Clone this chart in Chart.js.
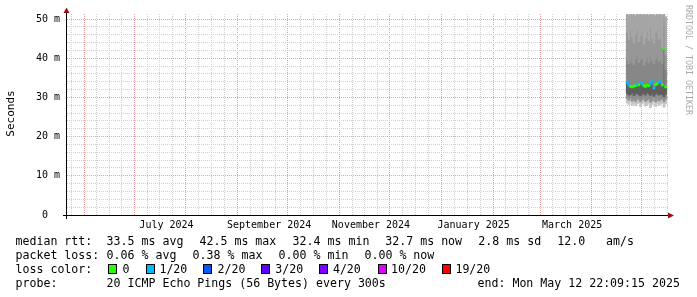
<!DOCTYPE html>
<html>
<head>
<meta charset="utf-8">
<title>Ping latency - last 360 days</title>
<script src="https://cdn.jsdelivr.net/npm/chart.js@4.4.1/dist/chart.umd.min.js"></script>
<style>
  html, body { margin: 0; padding: 0; background: #fff; }
  canvas { display: block; }
</style>
</head>
<body>
<canvas id="chart" width="697" height="297"></canvas>
<script>
const DAY = 86400000;
const END = Date.UTC(2025, 4, 12, 22, 9, 15);
const START = END - 360 * DAY;

// daily samples (ms)
const days = ['2025-04-18', '2025-04-19', '2025-04-20', '2025-04-21', '2025-04-22', '2025-04-23',
    '2025-04-24', '2025-04-25', '2025-04-26', '2025-04-27', '2025-04-28', '2025-04-29',
    '2025-04-30', '2025-05-01', '2025-05-02', '2025-05-03', '2025-05-04', '2025-05-05',
    '2025-05-06', '2025-05-07', '2025-05-08', '2025-05-09', '2025-05-10', '2025-05-11'];
const median = [33.9, 33.2, 32.8, 32.7, 32.9, 33.0, 33.4, 33.2, 33.9, 33.5, 33.0, 32.8,
    33.1, 33.0, 33.6, 34.1, 32.4, 33.3, 33.5, 33.9, 34.0, 33.2, 42.5, 32.7];
const lossIdx = [1, 1, 0, 0, 0, 0, 1, 0, 1, 1, 0, 0, 0, 0, 1, 1, 1, 0, 0, 1, 1, 0, 0, 0];
const smokeMax = [51.2, 51.0, 51.3, 51.1, 51.2, 50.9, 51.3, 51.1, 51.2, 51.0, 51.3, 51.1,
    51.2, 51.0, 51.3, 51.1, 51.2, 50.9, 51.3, 51.1, 51.2, 51.0, 51.3, 50.6];
const smokeP90 = [46.5, 44.8, 47.2, 45.5, 43.9, 46.1, 47.5, 44.2, 45.8, 47.0, 43.6, 45.2,
    46.8, 44.5, 48.0, 45.1, 43.8, 46.6, 47.3, 44.9, 45.7, 42.8, 50.2, 41.0];
const smokeP75 = [39.5, 38.6, 40.2, 39.0, 38.4, 39.8, 40.5, 38.9, 39.6, 40.1, 38.2, 39.1,
    40.3, 38.8, 41.0, 39.4, 38.5, 39.9, 40.6, 39.2, 39.7, 38.6, 48.5, 37.2];
const smokeP25 = [31.0, 30.6, 30.8, 31.2, 30.5, 30.9, 31.1, 30.7, 30.4, 31.0, 30.8, 30.6,
    31.2, 30.9, 30.5, 31.0, 30.3, 30.8, 31.1, 30.6, 30.9, 30.7, 30.2, 30.8];
const smokeP10 = [29.8, 29.3, 29.9, 29.1, 29.6, 29.0, 29.7, 29.5, 28.9, 29.4, 29.8, 29.0,
    29.3, 29.7, 28.8, 29.2, 29.9, 28.9, 29.6, 29.1, 29.4, 29.7, 28.9, 29.5];
const smokeMin = [28.6, 28.2, 28.9, 28.0, 28.5, 27.9, 28.4, 28.7, 27.6, 28.3, 28.8, 27.8,
    28.1, 28.6, 27.4, 28.2, 28.9, 27.7, 28.5, 28.0, 28.3, 28.6, 27.5, 28.4];

// loss colour legend
const lossLabels = ['0', '1/20', '2/20', '3/20', '4/20', '10/20', '19/20'];
const lossColors = ['#26ff00', '#00b8ff', '#0059ff', '#5e00ff', '#7e00ff', '#dd00ff', '#ff0000'];

// x axis labels (placed mid-month)
const labelMonths = ['2024-07', '2024-09', '2024-11', '2025-01', '2025-03'];
const monthLabels = ['July 2024', 'September 2024', 'November 2024', 'January 2025', 'March 2025'];
const yMax = 51.3;

// statistics lines below the chart
const statLines = [
    [['median rtt:', 15.5], ['33.5 ms avg', 106.6], ['42.5 ms max', 199.5], ['32.4 ms min', 292.6],
     ['32.7 ms now', 385.3], ['2.8 ms sd', 478.3], ['12.0   am/s', 557.2]],
    [['packet loss:', 15.5], ['0.06 % avg', 106.6], ['0.38 % max', 192.6], ['0.00 % min', 278.6],
     ['0.00 % now', 364.5]],
    [['loss color:', 15.5]],
    [['probe:', 15.5], ['20 ICMP Echo Pings (56 Bytes) every 300s', 106.6],
     ['end: Mon May 12 22:09:15 2025', 477.5]]
];
const boxX = [108, 146, 203, 261, 319, 378, 442];
const boxTextX = [122.5, 159.4, 217.5, 275.3, 332.9, 391, 455.4];

const MONO = "'DejaVu Sans Mono', monospace";
const MAJOR = '#eda0a0';
const MINOR = '#d0d0d0';
const MEDIAN_HALF = 0.27; // half thickness of the median mark, ms

const dayX = d => Date.parse(d) + DAY / 2;

// grid ticks: month starts (major) and quarter months (minor)
const xTicks = [];
for (let y = 2024, m = 4; y * 12 + m <= 2025 * 12 + 4; m++) {
    if (m > 11) { m = 0; y++; }
    const a = Date.UTC(y, m, 1), b = Date.UTC(y, m + 1, 1);
    const key = y + '-' + String(m + 1).padStart(2, '0');
    const li = labelMonths.indexOf(key);
    for (let k = 0; k < 4; k++) {
        const v = a + (b - a) * k / 4;
        if (v < START || v > END) continue;
        xTicks.push({ value: v, major: k === 0, lbl: (k === 2 && li >= 0) ? monthLabels[li] : '' });
    }
}
const yTicks = [];
for (let v = 0; v <= 50; v += 2) yTicks.push({ value: v, major: v % 10 === 0 });

const band = (lo, hi, color, order) => ({
    type: 'bar',
    data: days.map((d, i) => ({ x: dayX(d), y: [lo[i], hi[i]] })),
    backgroundColor: color,
    borderWidth: 0,
    grouped: false,
    barThickness: 2,
    order: order
});

const extras = {
    id: 'extras',
    beforeDraw(chart) {
        const ctx = chart.ctx;
        ctx.save();
        ctx.fillStyle = '#fff';
        ctx.fillRect(0, 0, chart.width, chart.height);
        ctx.restore();
    },
    afterDraw(chart) {
        const ctx = chart.ctx;
        const y0 = chart.scales.y.getPixelForValue(0);
        ctx.save();
        // axes
        ctx.strokeStyle = '#000';
        ctx.lineWidth = 1;
        ctx.beginPath();
        ctx.moveTo(63, Math.round(y0) + 0.5);
        ctx.lineTo(669, Math.round(y0) + 0.5);
        ctx.moveTo(66.5, 219);
        ctx.lineTo(66.5, 12);
        ctx.stroke();
        ctx.fillStyle = '#a01010';
        ctx.beginPath();
        ctx.moveTo(63.5, 13); ctx.lineTo(69.5, 13); ctx.lineTo(66.5, 7.5);
        ctx.closePath(); ctx.fill();
        ctx.beginPath();
        ctx.moveTo(668, 212.5); ctx.lineTo(668, 218.5); ctx.lineTo(674, 215.5);
        ctx.closePath(); ctx.fill();

        // axis title
        ctx.fillStyle = '#000';
        ctx.font = '11px ' + MONO;
        ctx.textAlign = 'center';
        ctx.textBaseline = 'middle';
        ctx.save();
        ctx.translate(11, 113.5);
        ctx.rotate(-Math.PI / 2);
        ctx.fillText('Seconds', 0, 0);
        ctx.restore();

        // watermark
        ctx.save();
        ctx.fillStyle = '#aaaaaa';
        ctx.font = '8.3px ' + MONO;
        ctx.textAlign = 'left';
        ctx.translate(688, 5);
        ctx.rotate(Math.PI / 2);
        ctx.fillText('RRDTOOL / TOBI OETIKER', 0, 0);
        ctx.restore();

        // statistics
        ctx.font = '11.6px ' + MONO;
        ctx.textAlign = 'left';
        ctx.textBaseline = 'alphabetic';
        statLines.forEach((line, r) => {
            line.forEach(([t, x]) => ctx.fillText(t, x, 245 + r * 13.9));
        });
        lossLabels.forEach((t, i) => {
            ctx.fillStyle = lossColors[i];
            ctx.fillRect(boxX[i], 264, 9, 10);
            ctx.strokeStyle = '#000';
            ctx.strokeRect(boxX[i] + 0.5, 264.5, 8, 9);
            ctx.fillStyle = '#000';
            ctx.fillText(t, boxTextX[i], 245 + 2 * 13.9);
        });
        ctx.restore();
    }
};

new Chart(document.getElementById('chart'), {
    type: 'bar',
    data: {
        datasets: [
            // median drawn as a thin mark per sample, coloured by loss
            {
                type: 'bar',
                data: days.map((d, i) => ({ x: dayX(d), y: [median[i] - MEDIAN_HALF, median[i] + MEDIAN_HALF] })),
                backgroundColor: lossIdx.map(l => lossColors[l]),
                borderWidth: 0,
                grouped: false,
                barThickness: 2,
                order: 0
            },
            band(smokeP90, smokeMax, '#a6a6a6', 1),
            band(smokeP75, smokeP90, '#979797', 1),
            band(median, smokeP75, '#878787', 1),
            band(smokeP25, median, '#5f5f5f', 1),
            band(smokeP10, smokeP25, '#8f8f8f', 1),
            band(smokeMin, smokeP10, '#c4c4c4', 1)
        ]
    },
    options: {
        responsive: false,
        animation: false,
        devicePixelRatio: 1,
        layout: { padding: { top: 14, right: 29, left: 0, bottom: 0 } },
        plugins: { legend: { display: false }, tooltip: { enabled: false } },
        scales: {
            x: {
                type: 'linear',
                min: START,
                max: END,
                offset: false,
                z: 1,
                afterBuildTicks: s => { s.ticks = xTicks.map(t => ({ ...t })); },
                afterFit: s => { s.height = 82; },
                grid: { color: c => (c.tick && c.tick.major ? MAJOR : MINOR), drawTicks: false },
                border: { display: false, dash: [1, 1] },
                ticks: {
                    autoSkip: false, maxRotation: 0, padding: 4, color: '#000',
                    font: { family: MONO, size: 10 },
                    callback: (v, i, t) => t[i].lbl || ''
                }
            },
            y: {
                min: 0,
                max: yMax,
                z: 1,
                afterBuildTicks: s => { s.ticks = yTicks.map(t => ({ ...t })); },
                afterFit: s => { s.width = 67; },
                grid: { color: c => (c.tick && c.tick.major ? MAJOR : MINOR), drawTicks: false },
                border: { display: false, dash: [1, 1] },
                ticks: {
                    autoSkip: false, padding: 7, color: '#000',
                    font: { family: MONO, size: 10 },
                    callback: v => (v % 10 !== 0 ? '' : (v === 0 ? '0  ' : v + ' m'))
                }
            }
        }
    },
    plugins: [extras]
});
</script>
</body>
</html>
